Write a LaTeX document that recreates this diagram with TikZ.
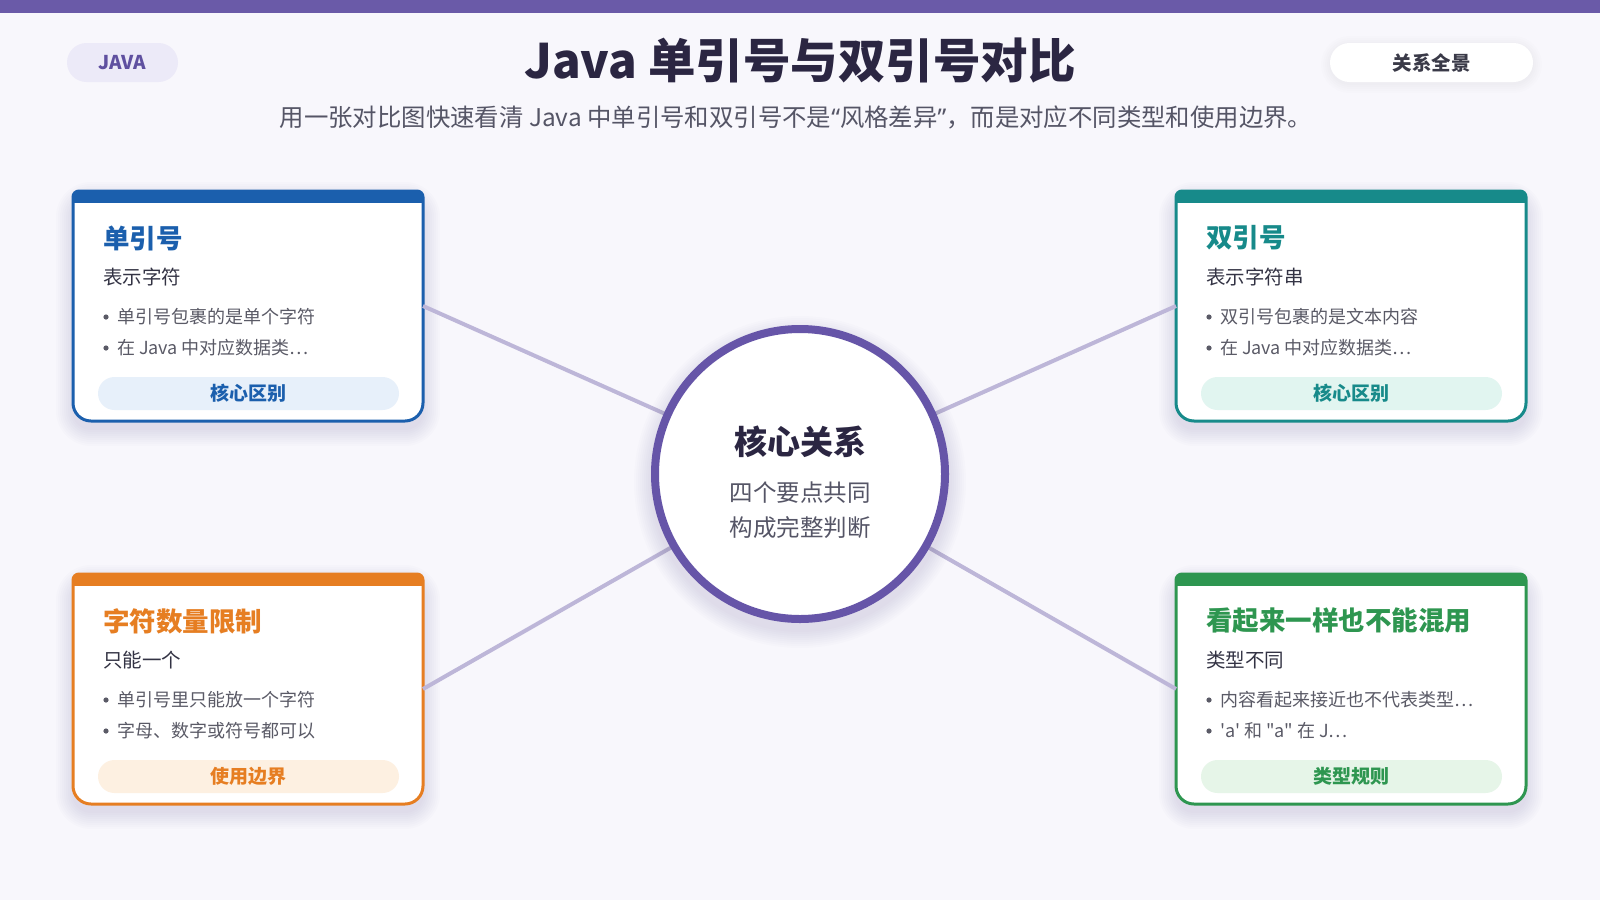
\documentclass[tikz,border=0pt]{standalone}
\usepackage{fontspec}
\setmainfont{Noto Sans CJK SC}
\newfontfamily\rawfont{Noto Sans CJK SC}
\newfontfamily\latinfont{Noto Sans}
\definecolor{bg}{HTML}{F8F7FC}
\definecolor{topbar}{HTML}{6A5AA8}
\definecolor{ink}{HTML}{2B2642}
\definecolor{subink}{HTML}{555566}
\definecolor{cardsub}{HTML}{333344}
\definecolor{bulletink}{HTML}{5A5A66}
\definecolor{conncol}{HTML}{BDB6D8}
\definecolor{corecol}{HTML}{6655A8}
\definecolor{cblue}{HTML}{1B5FAD}
\definecolor{cblueL}{HTML}{E7F0FA}
\definecolor{cteal}{HTML}{178A8A}
\definecolor{ctealL}{HTML}{E1F5F0}
\definecolor{corange}{HTML}{E67E22}
\definecolor{corangeL}{HTML}{FDF0E1}
\definecolor{cgreen}{HTML}{2E9650}
\definecolor{cgreenL}{HTML}{E6F5E8}
\definecolor{javafill}{HTML}{ECEAF8}
\definecolor{javaink}{HTML}{5F50A0}
\definecolor{pillink}{HTML}{3A3A48}
\definecolor{shadowcol}{HTML}{3A3070}
\tikzset{
  txt/.style={inner sep=0pt, outer sep=0pt},
  conn/.style={draw=conncol, line width=4pt},
  shadowlayer/.style={fill=shadowcol, fill opacity=0.011},
}
\newcommand\cardpath[2]{({#1+175},{#2}) [rounded corners=6pt] -- ({#1+350},{#2}) -- ({#1+350},{#2+115}) [rounded corners=18pt] -- ({#1+350},{#2+230}) -- ({#1},{#2+230}) -- ({#1},{#2+115}) [rounded corners=6pt] -- ({#1},{#2}) -- cycle}
% #1 name #2 x #3 y #4 colour #5 title #6 sub #7 b1 #8 b2 #9 pill
\newcommand\mycard[9]{%
  \foreach \e in {1,3,...,17} {
    \fill[shadowlayer, rounded corners={18+\e}] ({#2-\e},{#3+8-\e}) rectangle ({#2+350+\e},{#3+238+\e});
  }
  \path[fill=white] \cardpath{#2}{#3};
  \begin{scope}
    \clip \cardpath{#2}{#3};
    \fill[#4] ({#2-5},{#3-5}) rectangle ({#2+355},{#3+12});
  \end{scope}
  \draw[#4, line width=3pt] \cardpath{#2}{#3};
  \node[txt, minimum width=350pt, minimum height=230pt, anchor=north west] (#1) at ({#2},{#3}) {};
  \node[txt, anchor=west, text=#4, font=\fontsize{26.5}{30}\selectfont\bfseries] (#1-title) at ({#2+30},{#3+47}) {#5};
  \node[txt, anchor=west, text=cardsub, font=\fontsize{19.5}{23}\selectfont] (#1-sub) at ({#2+30},{#3+86}) {#6};
  \fill[bulletink] ({#2+33},{#3+126}) circle (2.6pt);
  \node[txt, anchor=west, text=bulletink, font=\fontsize{18}{21}\selectfont] (#1-b1) at ({#2+44},{#3+126}) {#7};
  \fill[bulletink] ({#2+33},{#3+157}) circle (2.6pt);
  \node[txt, anchor=west, text=bulletink, font=\fontsize{18}{21}\selectfont] (#1-b2) at ({#2+44},{#3+157}) {#8};
  \node[txt, fill=#4L, rounded corners=16.5pt, minimum width=301pt, minimum height=33pt, text=#4, font=\fontsize{19}{23}\selectfont\bfseries] (#1-pill) at ({#2+175.5},{#3+202.5}) {#9};
}
\begin{document}
\begin{tikzpicture}[x=1pt,y=-1pt]
\useasboundingbox[fill=bg] (0,0) rectangle (1600,900);
\fill[topbar] (0,0) rectangle (1600,13);
% header
\node[txt, fill=javafill, rounded corners=19.5pt, minimum width=111pt, minimum height=39pt, text=javaink, font=\fontsize{19}{23}\selectfont\bfseries] (java) at (122.5,62.5) {JAVA};
\foreach \e in {1,3,...,9} {
  \fill[shadowlayer, fill opacity=0.008, rounded corners={19.5+\e}] ({1330-\e},{45-\e}) rectangle ({1533+\e},{84+\e});
}
\node[txt, fill=white, rounded corners=19.5pt, minimum width=203pt, minimum height=39pt, text=pillink, font=\fontsize{19.5}{23}\selectfont\bfseries] (scope) at (1431.5,62.5) {关系全景};
\node[txt, text=ink, font=\fontsize{47.5}{54}\selectfont\bfseries] (title) at (800,61) {Java 单引号与双引号对比};
\node[txt, text=subink, font=\fontsize{24.4}{28}\selectfont] (subtitle) at (796,117) {用一张对比图快速看清 Java 中单引号和双引号不是{\latinfont “}风格差异{\latinfont ”}，而是对应不同类型和使用边界。};
% cards
\mycard{tl}{73}{191}{cblue}{单引号}{表示字符}{单引号包裹的是单个字符}{在 Java 中对应数据类…}{核心区别}
\mycard{tr}{1176}{191}{cteal}{双引号}{表示字符串}{双引号包裹的是文本内容}{在 Java 中对应数据类…}{核心区别}
\mycard{bl}{73}{574}{corange}{字符数量限制}{只能一个}{单引号里只能放一个字符}{字母、数字或符号都可以}{使用边界}
\mycard{br}{1176}{574}{cgreen}{看起来一样也不能混用}{类型不同}{内容看起来接近也不代表类型…}{\rawfont 'a' 和 "a" 在 J…}{类型规则}
% connectors
\coordinate (cc) at (800,474);
\draw[conn] (tl.east) -- (cc);
\draw[conn] (tr.west) -- (cc);
\draw[conn] (bl.east) -- (cc);
\draw[conn] (br.west) -- (cc);
% core
\foreach \e in {1,3,...,17} {
  \fill[shadowlayer] (800,482) circle ({149+\e});
}
\node[circle, draw=corecol, line width=8pt, fill=white, minimum size=290pt, inner sep=0pt] (core) at (cc) {};
\node[txt, text=ink, font=\fontsize{33}{38}\selectfont\bfseries] (core-title) at (800,442) {核心关系};
\node[txt, text=subink, font=\fontsize{23.5}{28}\selectfont] (core-l1) at (800,493) {四个要点共同};
\node[txt, text=subink, font=\fontsize{23.5}{28}\selectfont] (core-l2) at (800,528) {构成完整判断};
\end{tikzpicture}
\end{document}
